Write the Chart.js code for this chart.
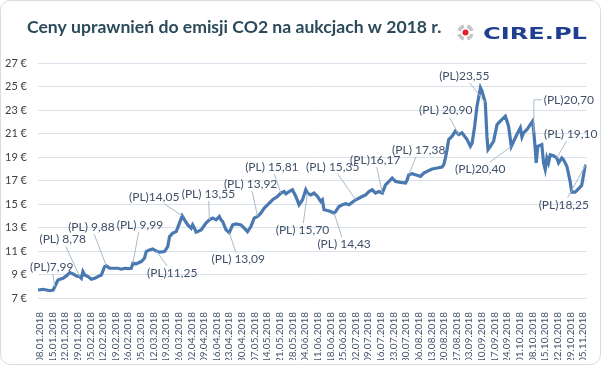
<!DOCTYPE html>
<html lang="pl">
<head>
<meta charset="utf-8">
<title>Ceny uprawnień do emisji CO2 na aukcjach w 2018 r.</title>
<script src="https://cdn.jsdelivr.net/npm/chart.js@4.4.1/dist/chart.umd.min.js"></script>
<style>
  html, body { margin: 0; padding: 0; background: #ffffff; }
  #wrap { width: 601px; height: 365px; position: relative; }
</style>
</head>
<body>
<div id="wrap"><canvas id="chart1" width="601" height="365"></canvas></div>
<script>
// dni liczone od 08.01.2018 (poniedzialek)
const startDate = Date.UTC(2018, 0, 8);
const weekTicks = [0, 7, 14, 21, 28, 35, 42, 49, 56, 63, 70, 77, 84, 91, 98, 105, 112, 119, 126, 133, 140, 147,
  154, 161, 168, 175, 182, 189, 196, 203, 210, 217, 224, 231, 238, 245, 252, 259, 266, 273, 280, 287, 294, 301];

const days = [-1, 1.8, 3.7, 5.5, 7.4, 8.3, 9.2, 10.1, 11.1, 12.9, 14.7, 16.6, 18.4, 20.3, 22.1, 23, 23.9, 24.9,
  26.7, 28.6, 30.4, 32.2, 34.1, 35.9, 36.9, 38.7, 41.5, 43.3, 45.2, 47, 48.8, 50.7, 51.6, 53.4, 56.2, 58, 59,
  60.8, 62.6, 64.5, 66.3, 69.1, 70.9, 71.9, 73.7, 75.6, 77.4, 78.9, 80.2, 82, 83.9, 84.7, 85.7, 86.6, 89.4,
  92.1, 94, 95.8, 97.7, 99.5, 100.4, 101.3, 103.2, 105, 106.9, 108.7, 111.5, 113.3, 115.1, 117, 118.8, 120.7,
  122.5, 124.4, 126.2, 129, 131.7, 133.6, 135.4, 136.4, 138.2, 140, 141.9, 143.7, 145.6, 147.4, 148.3, 150.2,
  152, 153.9, 155.7, 156.6, 157.5, 159.4, 161.2, 163.1, 164, 165.8, 167.7, 169.5, 171.4, 173.2, 175.1, 178.7,
  180.6, 182.4, 184.2, 186.1, 187.9, 189.8, 191.6, 193.5, 195.3, 196.2, 197.2, 199.9, 202.7, 203.6, 204.5,
  206.4, 208.2, 211, 212.8, 214.7, 217.4, 220.2, 222.9, 223.9, 224.8, 225.7, 226.6, 228.5, 230.3, 232.2, 234,
  236.8, 238.6, 239.6, 241, 242.3, 244.2, 245.1, 246.9, 247.8, 248.4, 249.7, 251.5, 253.4, 255.2, 258, 259.8,
  261.3, 262.6, 264.4, 266.3, 267.2, 268.1, 270, 271.8, 273.1, 273.8, 274.6, 275.1, 276, 278.2, 279.2, 280.1,
  281, 281.9, 282.9, 284.7, 286.5, 287.5, 289.3, 290.2, 292.1, 293.9, 294.8, 296.7, 298.5, 300.3, 301.8, 302.6];

const prices = [7.68, 7.74, 7.68, 7.62, 7.68, 7.96, 8.25, 8.53, 8.59, 8.68, 8.88, 9.16, 9.05, 8.88, 8.82, 8.68,
  9.25, 8.96, 8.82, 8.59, 8.68, 8.82, 8.96, 9.67, 9.73, 9.53, 9.53, 9.53, 9.45, 9.53, 9.5, 9.53, 9.96, 9.9,
  10.1, 10.38, 10.95, 11.09, 11.18, 11.0, 10.9, 10.95, 11.37, 12.23, 12.52, 12.65, 13.37, 13.99, 13.65, 13.22,
  12.94, 13.22, 12.94, 12.6, 12.8, 13.37, 13.65, 13.8, 13.65, 13.94, 13.65, 13.52, 12.8, 12.57, 13.22, 13.31,
  13.22, 12.94, 12.65, 13.08, 13.8, 13.94, 14.22, 14.65, 14.93, 15.36, 15.64, 15.93, 16.06, 15.87, 16.06,
  16.21, 15.64, 14.93, 15.36, 16.21, 15.93, 15.78, 15.93, 15.64, 15.22, 15.36, 14.51, 14.45, 14.36, 14.22,
  14.36, 14.79, 14.93, 15.02, 14.93, 15.15, 15.36, 15.64, 15.78, 16.06, 16.21, 15.93, 16.06, 15.93, 16.63,
  16.92, 17.21, 17.06, 16.92, 16.84, 16.78, 17.06, 17.49, 17.58, 17.49, 17.35, 17.63, 17.78, 17.98, 18.06,
  18.15, 18.35, 18.92, 19.63, 20.48, 20.77, 21.2, 20.91, 21.06, 20.48, 19.91, 20.2, 21.62, 23.33, 24.9, 24.6,
  23.61, 20.77, 19.63, 19.91, 20.34, 21.76, 22.05, 22.47, 21.62, 19.91, 20.34, 20.91, 21.48, 20.71, 21.06,
  21.34, 21.76, 22.05, 21.06, 19.63, 18.5, 19.91, 20.06, 18.5, 17.94, 18.92, 18.5, 19.2, 19.12, 18.92, 18.5,
  18.92, 18.78, 18.21, 16.93, 16.01, 16.01, 16.29, 16.58, 17.86, 18.35];

// opisy aukcji polskich
const annoTexts = ['(PL)7,99', '(PL) 8,78', '(PL) 9,88', '(PL) 9,99', '(PL)11,25', '(PL)14,05', '(PL) 13,55',
  '(PL) 13,09', '(PL) 13,92', '(PL) 15,81', '(PL) 15,70', '(PL) 14,43', '(PL) 15,35', '(PL)16,17', '(PL) 17,38',
  '(PL) 20,90', '(PL)23,55', '(PL)20,40', '(PL)20,70', '(PL) 19,10', '(PL)18,25'];
const annoDays = [8.3, 22.1, 36.9, 51.6, 64.5, 78.9, 94, 105, 120.7, 133.6, 148.3, 163.1, 175.1, 189.8, 204.5,
  232.2, 246.9, 261.3, 273.8, 286.5, 302.6];

// przesuniecie etykiety wzgledem punktu (px)
const annoOffsets = [[-3, -20], [-17, -37], [-15, -39], [7, -38], [16, 22], [-28, -19], [-1, -26], [9, 27],
  [-7, -32], [-9, -26], [-5, 37], [10, 31], [-23, -33], [-7, -33], [10, -25], [-13, -24], [-21, -27], [-31, 23],
  [35, -33], [14, -24], [-22, 40]];
const annoElbow = 18;

function fmtDate(d) {
  const dt = new Date(startDate + d * 86400000);
  const dd = String(dt.getUTCDate()).padStart(2, '0');
  const mm = String(dt.getUTCMonth() + 1).padStart(2, '0');
  return dd + '.' + mm + '.' + dt.getUTCFullYear();
}

function nearestIndex(d) {
  let best = 0;
  for (let i = 1; i < days.length; i++) {
    if (Math.abs(days[i] - d) < Math.abs(days[best] - d)) best = i;
  }
  return best;
}

// tytul, logo i ramka
const decorPlugin = {
  id: 'decor',
  beforeDraw(chart) {
    const ctx = chart.ctx;
    ctx.save();
    ctx.fillStyle = '#ffffff';
    ctx.fillRect(0, 0, chart.width, chart.height);
    ctx.strokeStyle = '#d5dce3';
    ctx.lineWidth = 1;
    ctx.beginPath();
    ctx.roundRect(0.5, 0.5, chart.width - 1, chart.height - 1, 10);
    ctx.stroke();

    ctx.fillStyle = '#2b4a5a';
    ctx.font = 'bold 17.6px Lato';
    ctx.textBaseline = 'alphabetic';
    ctx.fillText('Ceny uprawnień do emisji CO2 na aukcjach w 2018 r.', 27, 33);

    // logo CIRE.PL
    const cx = 465.5, cy = 32.5;
    ctx.strokeStyle = '#c6c6c6';
    ctx.lineWidth = 3.5;
    for (let k = 0; k < 4; k++) {
      const a = k * Math.PI / 2 + 0.25;
      ctx.beginPath();
      ctx.arc(cx, cy, 6.5, a, a + Math.PI / 2 - 0.5);
      ctx.stroke();
    }
    ctx.fillStyle = '#e3222b';
    ctx.beginPath();
    ctx.arc(cx, cy, 3, 0, Math.PI * 2);
    ctx.fill();

    ctx.font = 'bold 16px "DejaVu Sans"';
    const w = ctx.measureText('CIRE.PL').width;
    ctx.translate(483, 38.5);
    ctx.scale(104 / w, 1);
    ctx.fillStyle = '#1f3f8f';
    ctx.fillText('CIRE.PL', 0, 0);
    ctx.restore();
  },
  afterDatasetsDraw(chart) {
    const ctx = chart.ctx;
    const pts = chart.getDatasetMeta(0).data;
    ctx.save();
    ctx.font = '12px Lato';
    ctx.textAlign = 'center';
    ctx.textBaseline = 'middle';
    annoTexts.forEach(function (txt, i) {
      const p = pts[nearestIndex(annoDays[i])];
      const lx = p.x + annoOffsets[i][0];
      const ly = p.y + annoOffsets[i][1];
      const hw = ctx.measureText(txt).width / 2 + 2;
      const hh = 7;
      ctx.strokeStyle = '#a9bacb';
      ctx.lineWidth = 1;
      ctx.beginPath();
      if (i === annoElbow) {
        ctx.moveTo(lx - hw, ly);
        ctx.lineTo(p.x, ly);
        ctx.lineTo(p.x, p.y);
      } else {
        const vx = p.x - lx, vy = p.y - ly;
        const t = Math.min(vx ? hw / Math.abs(vx) : 99, vy ? hh / Math.abs(vy) : 99);
        if (t < 1) {
          ctx.moveTo(lx + vx * t, ly + vy * t);
          ctx.lineTo(p.x, p.y);
        }
      }
      ctx.stroke();
      ctx.fillStyle = '#3f5068';
      ctx.fillText(txt, lx, ly);
    });
    ctx.restore();
  }
};

const points = days.map(function (d, i) { return { x: d, y: prices[i] }; });

new Chart(document.getElementById('chart1'), {
  type: 'line',
  data: {
    datasets: [{
      label: 'Cena',
      data: points,
      borderColor: '#4a78b0',
      borderWidth: 3.2,
      pointRadius: 0,
      tension: 0,
      fill: false
    }]
  },
  options: {
    responsive: false,
    animation: false,
    layout: { padding: { left: 0, right: 11, top: 63, bottom: 5 } },
    plugins: {
      legend: { display: false },
      tooltip: { enabled: false }
    },
    scales: {
      x: {
        type: 'linear',
        min: -1,
        max: 303,
        grid: { display: false },
        border: { display: false },
        afterBuildTicks: function (scale) {
          scale.ticks = weekTicks.map(function (v) { return { value: v }; });
        },
        afterFit: function (scale) { scale.height = 62; },
        ticks: {
          autoSkip: false,
          minRotation: 90,
          maxRotation: 90,
          padding: 6,
          color: '#44546a',
          font: { family: 'Lato', size: 10 },
          callback: function (v) { return fmtDate(v); }
        }
      },
      y: {
        min: 7,
        max: 27,
        grid: { color: '#d9e1ea', lineWidth: 1, drawTicks: false },
        border: { display: false },
        afterFit: function (scale) { scale.width = 38; },
        ticks: {
          stepSize: 2,
          padding: 11,
          color: '#404040',
          font: { family: 'Lato', size: 11 },
          callback: function (v) { return v + ' €'; }
        }
      }
    }
  },
  plugins: [decorPlugin]
});
</script>
</body>
</html>
